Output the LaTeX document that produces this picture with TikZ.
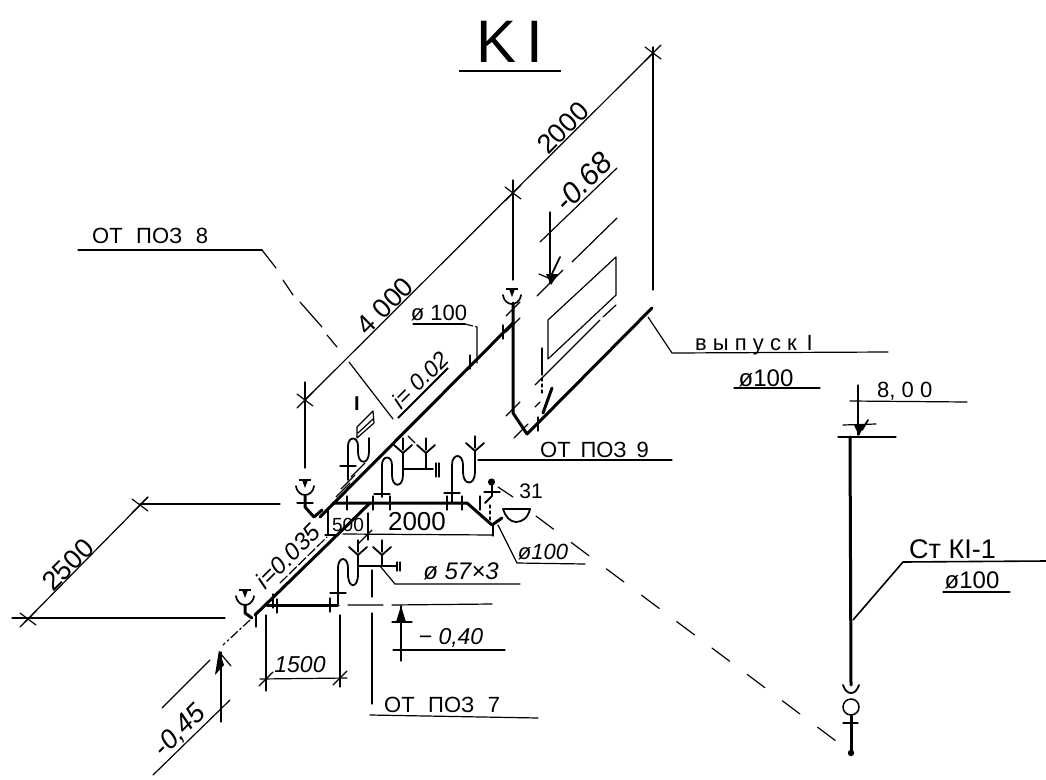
\documentclass[tikz,border=0pt]{standalone}
\usepackage{fontspec}
\setmainfont{Liberation Sans}
\newcommand{\fsz}[1]{\fontsize{#1}{#1}\selectfont}
\newcommand{\vtk}[2]{\draw[thn] (#1,#2-7) -- (#1,#2+7);}
\newcommand{\htk}[2]{\draw[thn] (#1-8,#2) -- (#1+8,#2);}
\newcommand{\dtk}[2]{\draw[thn] (#1-7,#2+7) -- (#1+7,#2-7);}
\newcommand{\xtk}[2]{\draw[dim] (#1-8,#2-6) -- (#1+8,#2+6) (#1-8,#2+8) -- (#1+8,#2-8);}
\newcommand{\cupf}[2]{% T-shaped funnel with cup, top at y
  \draw[pipe, line width=1.7pt] (#1-9,#2+6) .. controls (#1-8,#2+13) and (#1-3,#2+15) .. (#1,#2+15)
     .. controls (#1+3,#2+15) and (#1+8,#2+13) .. (#1+9,#2+6);
  \draw[line width=1.5pt] (#1-6,#2) -- (#1+6,#2);
  \fill (#1-3,#2) -- (#1+3,#2) -- (#1,#2+8) -- cycle;}
\newcommand{\yfun}[2]{% Y funnel, branch point at (x,y)
  \draw[med] (#1-9,#2-8) -- (#1,#2) -- (#1+9,#2-8);
  \draw[thn] (#1,#2-15) -- (#1,#2-3);}
\tikzset{
  pipe/.style={line width=3pt,line cap=round,line join=round},
  med/.style={line width=1.8pt,line cap=round,line join=round},
  thn/.style={line width=1.2pt,line cap=round},
  dim/.style={line width=1.2pt,line cap=round},
  lab/.style={inner sep=0pt,anchor=center},
  num/.style={lab,font=\fsz{24}\itshape,rotate=45},
}
\begin{document}
\begin{tikzpicture}[x=1pt,y=-1pt]
\useasboundingbox (0,0) rectangle (1046,779);
% title
\node[lab,font=\fsz{60}] (title) at (510,42) {K\,I};
\draw[line width=2.8pt] (459,71) -- (561,71);
% big dimension 4000 / 2000
\draw[dim] (305,400) -- (653,53);
\xtk{305}{400}\xtk{513}{193}\xtk{653}{53}
\draw[dim] (305,382) -- (305,468);
\draw[dim] (513,180) -- (513,280);
\draw[dim] (653,47) -- (653,290);
\node[lab,rotate=45,font=\fsz{27}] (d4000) at (385,306) {4 000};
\node[lab,rotate=45,font=\fsz{27}] (d2000) at (563,128) {2000};
% -0,68
\draw[dim] (540,242) -- (617,168);
\node[lab,rotate=45,font=\fsz{30}\itshape] (l068) at (583,182) {-0.68};
\draw[thn] (550,212) -- (550,283);
\fill (546,274) -- (558,274) -- (551,285) -- cycle;
\draw[med] (550,278) -- (560,257);
\draw[thn] (539,274) -- (553,280);
\draw[dim] (537,296) -- (563,270) (572,262) -- (617,218);
% parallelogram
\draw[line width=1.2pt,line join=round] (548,320) -- (548,359) -- (616,295) -- (616,257) -- cycle;
\draw[dim] (535,385) -- (600,320) (603,317) -- (616,305);
\draw[dim] (542,348) -- (542,375);
\draw[dim,dashed] (542,378) -- (542,395);
\draw[dim] (535,407) -- (540,402);
% right rear pipe
\draw[pipe] (513,303) -- (513,413) -- (527,434) -- (538,423) -- (652,308);
\draw[pipe] (552,388) -- (543,413);
\dtk{513}{409}\dtk{521}{431}\vtk{538}{424}
\dtk{513}{325}\dtk{513}{309}
\cupf{512}{289}
% upper diagonal pipe
\draw[pipe] (513,323) -- (320,517);
\vtk{503}{332}\vtk{470}{362}
\dtk{348}{482}\dtk{343}{490}\dtk{358}{470}
\draw[dim] (413,324) -- (465,324);
\draw[dim,dash pattern=on 8pt off 3pt on 40pt] (465,324) -- (477,327) -- (477,363);
\node[lab,font=\fsz{22}] (d100a) at (439,313) {ø 100};
\node[lab,rotate=45,font=\fsz{23}\itshape] (i002) at (420,380) {i= 0.02};
\draw[line width=1.8pt] (398,418) -- (448,368);
% vypusk
\draw[dim] (648,317) -- (672,353) -- (888,352);
\node[lab,anchor=base west,font=\fsz{22}] (vyp) at (695,350) {в ы п у с к\, I};
\draw[dim] (734,388) -- (820,388);
\node[lab,font=\fsz{24}] (d100b) at (766,378) {ø100};
% ot poz 8
\draw[dim] (78,250) -- (262,250);
\node[lab,anchor=base west,font=\fsz{22}] (poz8) at (92,243) {ОТ\, \,ПОЗ\, \,8};
\draw[dim] (262,250) -- (276,268) (283,280) -- (293,295) (300,302) -- (322,327) (327,335) -- (337,347) (349,362) -- (393,419) (408,436) -- (415,443);
% stack 1
\node[lab,font=\fsz{20}\bfseries] (st1) at (357,404) {I};
\draw[thn,line join=round] (357,427) -- (373,411) -- (374,423) -- (357,438) -- cycle (358,433) -- (373,419);
\draw[med] (348,480) -- (348,446) .. controls (348,436) and (358,436) .. (358,446) -- (358,452) .. controls (358,465) and (369,465) .. (369,452) -- (369,438);
\htk{348}{466}
% stack 2
\draw[med] (382,497) -- (382,465) .. controls (382,455) and (392,455) .. (392,465) -- (392,475) .. controls (392,488) and (403,488) .. (403,475) -- (403,453);
\htk{382}{494}
\yfun{403}{453}\yfun{426}{453}
\draw[med] (403,469) -- (433,469);
\draw[med] (426,453) -- (426,469);
\draw[thn] (436,463) -- (436,477) (439,463) -- (439,477);
% stack 3
\draw[med] (452,503) -- (452,465) .. controls (452,453) and (463,453) .. (463,465) -- (463,472) .. controls (463,486) and (475,486) .. (475,472) -- (475,451);
\htk{452}{493}
\yfun{475}{451}
\draw[dim] (478,460) -- (672,460);
\node[lab,anchor=base west,font=\fsz{22}] (poz9) at (540,457) {ОТ\, ПОЗ\, 9};
% horizontal branch and trap
\draw[pipe] (333,503) -- (467,503) -- (492,525) -- (502,518);
\vtk{347}{503}\vtk{373}{503}\vtk{390}{503}\vtk{447}{503}\vtk{462}{503}\vtk{480}{503}
\draw[med] (503,509) -- (530,509) .. controls (528,518) and (522,522) .. (516,522) .. controls (510,522) and (505,516) .. (503,509);
% 31
\draw[med] (485,503) -- (492,496) -- (492,484);
\fill (491.5,482) circle (3.6pt);
\htk{492}{492}
\draw[dim] (498,487) -- (513,497);
\node[lab,font=\fsz{21}] (n31) at (531,491) {31};
\draw[dim,dashed] (490,505) -- (490,522);
% ø100 lower
\draw[dim] (498,525) -- (517,563) -- (585,564);
\node[lab,font=\fsz{22}\itshape] (d100c) at (543,552) {ø100};
% big dashed
\draw[dim,dash pattern=on 22pt off 22pt] (536,516) -- (848,750);
% left riser at 4000 base
\cupf{305}{480}
\draw[pipe] (305,496) -- (305,507) -- (314,517) -- (322,510);
\htk{305}{503}
% dim 500/2000
\draw[dim] (328,510) -- (328,535) (368,513) -- (368,540) (493,525) -- (493,536);
\draw[dim] (343,534) -- (493,535);
\draw[dim] (325,535) -- (337,535);
\dtk{365}{537}
\node[lab,font=\fsz{19}] (d500) at (348,525) {500};
\node[lab,font=\fsz{26}] (d2000b) at (417,522) {2000};
% lower diagonal pipe
\draw[pipe] (255,615) -- (370,503);
\cupf{245}{590}
\draw[pipe] (245,605) -- (245,613) -- (252,618);
\vtk{273}{601}\vtk{256}{620}
% i=0.035
\node[num] (i0035) at (288,556) {i=0.035};
\draw[dim,dash pattern=on 10pt off 3pt] (280,583) -- (327,537);
% low branch
\draw[pipe] (267,605) -- (338,605);
\vtk{277}{606}\vtk{330}{605}
\draw[med] (338,605) -- (338,568) .. controls (338,556) and (348,556) .. (348,568) -- (348,574) .. controls (348,589) and (358,589) .. (358,574) -- (358,555);
\htk{338}{593}
\yfun{358}{555}\yfun{382}{555}
\draw[med] (358,566) -- (397,566) (382,555) -- (382,566);
\draw[thn] (397,562) -- (397,571) (400,562) -- (400,571);
\draw[dim] (380,566) -- (395,584) -- (520,584);
\node[lab,font=\fsz{24}\itshape] (d57) at (461,571) {ø 57×3};
% -0,40
\draw[dim] (372,570) -- (372,597) (372,613) -- (372,704);
\draw[dim] (348,605) -- (383,605) (392,605) -- (492,604);
\draw[dim] (401,606) -- (401,661);
\fill (401,606) -- (396,622) -- (406,622) -- cycle;
\draw[dim] (392,622) -- (412,622);
\draw[dim] (393,650) -- (505,650);
\node[lab,font=\fsz{23}\itshape] (l040) at (451,638) {− 0,40};
% ot poz 7
\draw[dim] (370,715) -- (538,718);
\node[lab,anchor=base west,font=\fsz{22}] (poz7) at (384,712) {ОТ\, \,ПОЗ\, \,7};
% 1500
\draw[dim] (266,615) -- (266,691) (340,615) -- (340,687);
\draw[dim] (260,679) -- (347,678);
\dtk{266}{679}\dtk{340}{678}
\node[lab,font=\fsz{23}\itshape] (d1500) at (300,665) {1500};
% 2500
\draw[dim] (25,622) -- (148,497);
\xtk{28}{619}\xtk{140}{505}
\draw[dim] (140,504) -- (280,504);
\draw[dim] (12,618) -- (225,618);
\node[lab,font=\fsz{27},rotate=45] (d2500b) at (68,565) {2500};
% -0,45
\draw[dim,dash pattern=on 9pt off 3pt on 2pt off 3pt] (250,620) -- (223,645);
\draw[dim] (210,660) -- (162,708);
\draw[dim] (153,775) -- (230,700);
\draw[dim] (221,652) -- (221,722);
\fill (219,650) -- (224,665) -- (215,675) -- cycle;
\draw[dim] (220,653) -- (231,666);
\node[lab,rotate=45,font=\fsz{27}\itshape] (l045) at (180,731) {-0,45};
% right stack
\draw[pipe] (850,437) -- (851,685);
\draw[dim] (838,437) -- (896,437);
\draw[dim] (858,385) -- (858,435);
\draw[dim] (850,401) -- (967,402);
\draw[dim] (843,425) -- (876,424);
\fill (854,425) -- (864,425) -- (859,436) -- cycle;
\draw[med] (862,430) -- (868,420);
\node[lab,anchor=base west,font=\fsz{22}] (l800) at (877,397) {8, 0 0};
\draw[line width=1.6pt] (853,620) -- (903,562) -- (1046,561);
\node[lab,anchor=base west,font=\fsz{27}] (stk) at (909,558) {Ст КI-1};
\draw[dim] (943,592) -- (1010,592);
\node[lab,font=\fsz{24}] (d100d) at (972,580) {ø100};
\draw[med] (843,685) .. controls (845,691) and (848,693) .. (851,693) .. controls (854,693) and (857,691) .. (859,685);
\draw[line width=1.5pt] (851,707) circle (8pt);
\draw[pipe] (851,716) -- (851,751);
\draw[thn] (843,723) -- (858,723);
\fill (851,753) circle (3.2pt);
\end{tikzpicture}
\end{document}
